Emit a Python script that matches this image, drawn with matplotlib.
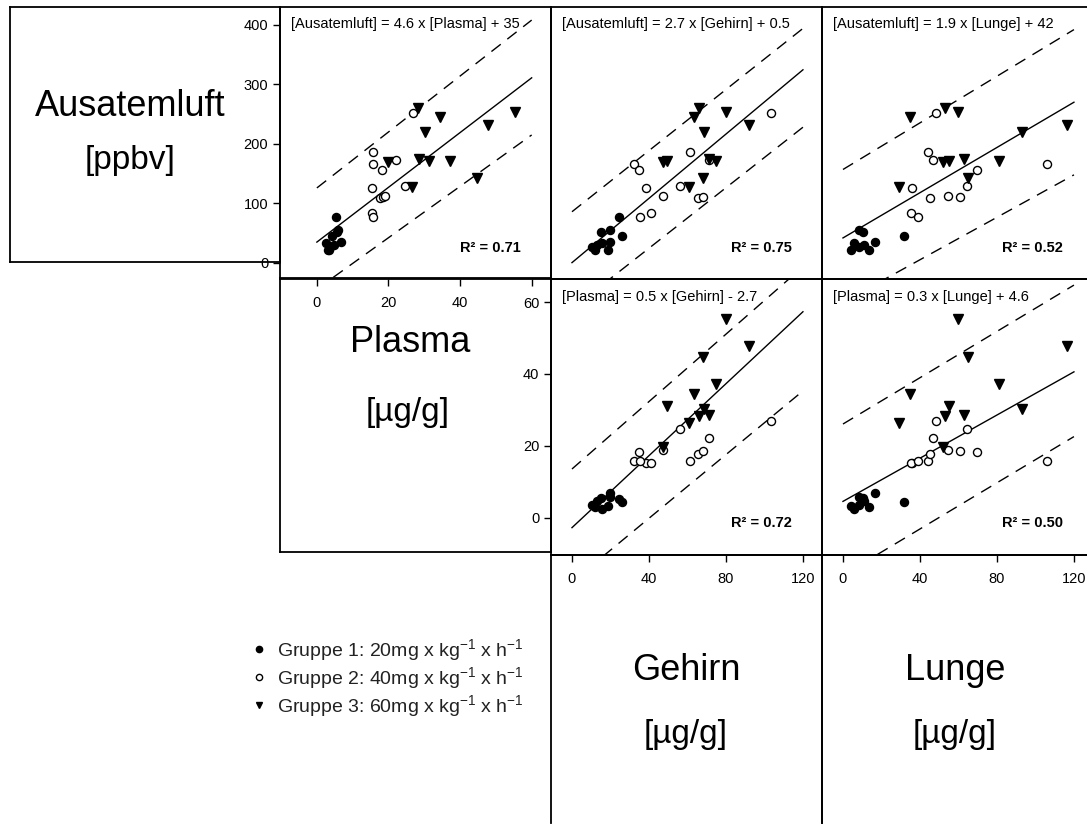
import numpy as np
import matplotlib
matplotlib.use('Agg')
import matplotlib.pyplot as plt
from matplotlib.lines import Line2D

plt.rcParams['font.family'] = 'Liberation Sans'
plt.rcParams['mathtext.fontset'] = 'custom'
plt.rcParams['mathtext.rm'] = 'Liberation Sans'
plt.rcParams['mathtext.it'] = 'Liberation Sans:italic'
plt.rcParams['mathtext.bf'] = 'Liberation Sans:bold'

nan = np.nan

# Gruppe 1: 20 mg/kg/h
g1_plasma = [5.3, 5.5, 5.8, 4.3, 2.6, 6.8, 3.6, 3.0, 3.4, 4.8]
g1_atem = [78, 52, 55, 46, 34, 36, 27, 22, 21, 30]
g1_gehirn = [24.4, 15.0, 19.6, 26.0, 15.4, 19.7, 10.2, 11.9, 18.9, 12.8]
g1_lunge = [nan, 10.4, 8.5, 31.5, 5.9, 16.8, 8.5, 13.7, 4.2, 11.0]

# Gruppe 2: 40 mg/kg/h
g2_plasma = [15.8, 15.7, 18.3, 22.2, 15.3, 24.6, 17.7, 18.6, 19.0, 15.4, 15.7, 26.8]
g2_atem = [186, 166, 156, 173, 126, 130, 109, 111, 112, 84, 77, 252]
g2_gehirn = [61.3, 32.2, 35.0, 71.3, 38.4, 56.1, 65.3, 68.2, 47.4, 41.2, 35.3, 103.4]
g2_lunge = [44.3, 106.0, 69.6, 46.6, 35.7, 64.2, 45.2, 60.9, 54.4, 35.3, 38.8, 48.3]

# Gruppe 3: 60 mg/kg/h
g3_plasma = [28.3, 34.4, 30.3, 19.8, 28.5, 31.2, 37.2, 26.5, 47.7, 55.3, 44.6]
g3_atem = [260, 245, 220, 169, 174, 172, 171, 127, 232, 254, 143]
g3_gehirn = [66.0, 63.6, 68.6, 47.4, 71.2, 49.5, 74.6, 61.0, 91.8, 79.8, 68.2]
g3_lunge = [53.0, 34.7, 93.0, 51.9, 62.7, 55.2, 81.2, 29.3, 116.4, 59.6, 65.1]

group_labels = [r'Gruppe 1: 20mg x kg$^{-1}$ x h$^{-1}$',
                r'Gruppe 2: 40mg x kg$^{-1}$ x h$^{-1}$',
                r'Gruppe 3: 60mg x kg$^{-1}$ x h$^{-1}$']

# Regressionen (x, y) mit 95%-Band
pairs = [('Plasma', 'Ausatemluft'), ('Gehirn', 'Ausatemluft'), ('Lunge', 'Ausatemluft'),
         ('Gehirn', 'Plasma'), ('Lunge', 'Plasma')]
slopes = [4.6, 2.7, 1.9, 0.5, 0.3]
intercepts = [35, 0.5, 42, -2.7, 4.6]
r_squared = [0.71, 0.75, 0.52, 0.72, 0.50]
fit_range = [(0, 60), (0, 120), (0, 120), (0, 120), (0, 120)]
band_upper = [(126, 408), (86, 394), (157, 392), (13.6, 69.8), (26.1, 64.7)]
band_lower = [(-44, 215), (-77, 228), (-66, 148), (-17.8, 35.3), (-15.9, 22.6)]

data = {
    'Ausatemluft': [g1_atem, g2_atem, g3_atem],
    'Plasma': [g1_plasma, g2_plasma, g3_plasma],
    'Gehirn': [g1_gehirn, g2_gehirn, g3_gehirn],
    'Lunge': [g1_lunge, g2_lunge, g3_lunge],
}

W, H = 1087, 825
fig = plt.figure(figsize=(W / 100, H / 100), dpi=100)


def rect(x0, y0, x1, y1):
    return [x0 / W, 1 - y1 / H, (x1 - x0) / W, (y1 - y0) / H]


# Beschriftungskaesten
for r, bottom in [((10, 7, 280, 262), True), ((280, 278, 551, 552), True),
                  ((551, 555, 822, 823), False), ((822, 555, 1093, 823), False)]:
    b = fig.add_axes(rect(*r), zorder=0)
    b.set_facecolor('none')
    b.set_xticks([])
    b.set_yticks([])
    for s in b.spines.values():
        s.set_linewidth(1.3)
    b.spines['bottom'].set_visible(bottom)

for x, y, t, fs in [(130, 107, 'Ausatemluft', 26), (130, 160, '[ppbv]', 24),
                    (410, 343, 'Plasma', 26), (408, 412, '[µg/g]', 24),
                    (686, 670, 'Gehirn', 26), (686, 735, '[µg/g]', 24),
                    (955, 670, 'Lunge', 26), (955, 735, '[µg/g]', 24)]:
    fig.text(x / W, 1 - y / H, t, fontsize=fs, ha='center', va='center')

panel_rects = [(280, 7, 551, 279), (551, 7, 822, 279), (822, 7, 1093, 279),
               (551, 279, 822, 555), (822, 279, 1093, 555)]
lims = {'Ausatemluft': (-27, 430), 'Plasma': (-10.3, 66.4),
        'Gehirn': (-10.9, 129.9), 'Lunge': (-10.9, 129.9)}
lims_plasma_x = (-10.3, 65.4)

markers = [dict(marker='o', ms=5.8, mfc='black', mec='black'),
           dict(marker='o', ms=5.8, mfc='white', mec='black', mew=1.0),
           dict(marker='v', ms=7.2, mfc='black', mec='black')]

axes = []
for i, (xv, yv) in enumerate(pairs):
    ax = fig.add_axes(rect(*panel_rects[i]), zorder=2)
    ax.set_facecolor('none')
    xs = np.array(fit_range[i], dtype=float)
    ax.plot(xs, slopes[i] * xs + intercepts[i], color='black', lw=1.0, zorder=2)
    ax.plot(xs, band_upper[i], color='black', lw=1.0, dashes=(8.5, 6), zorder=2)
    ax.plot(xs, band_lower[i], color='black', lw=1.0, dashes=(8.5, 6), zorder=2)
    for g in range(3):
        ax.plot(data[xv][g], data[yv][g], ls='none', zorder=3, **markers[g])
    ax.set_xlim(lims_plasma_x if xv == 'Plasma' else lims[xv])
    ax.set_ylim(lims[yv])
    for s in ax.spines.values():
        s.set_linewidth(1.3)
    ax.set_xticks([])
    ax.set_yticks([])
    ax.tick_params(direction='out', length=5, width=1.0, labelsize=10.5,
                   colors='black')
    ax.tick_params(axis='x', pad=7)
    ax.tick_params(axis='y', pad=3.5)
    sign = '+' if intercepts[i] >= 0 else '-'
    eq = f'[{yv}] = {slopes[i]:g} x [{xv}] {sign} {abs(intercepts[i]):g}'
    ax.text(0.04, 0.936, eq, transform=ax.transAxes, fontsize=10.5,
            ha='left', va='center')
    ax.text(0.89, 0.115, f'R² = {r_squared[i]:.2f}', transform=ax.transAxes,
            fontsize=10.5, fontweight='bold', ha='right', va='center')
    axes.append(ax)

axes[0].set_yticks([0, 100, 200, 300, 400])
axes[0].set_xticks([0, 20, 40, 60])
axes[0].set_xticklabels(['0', '20', '40', ''])
axes[3].set_yticks([0, 20, 40, 60])
axes[3].set_xticks([0, 40, 80, 120])
axes[4].set_xticks([0, 40, 80, 120])

handles = [Line2D([], [], ls='none', marker=m['marker'], ms=4.5, mfc=m['mfc'],
                  mec=m['mec'], mew=1.0) for m in markers]
fig.legend(handles, group_labels, loc='upper left',
           bbox_to_anchor=(251 / W, 1 - 637 / H), frameon=False, fontsize=14,
           handlelength=0.8, handletextpad=0.55, labelspacing=0.1,
           borderaxespad=0, borderpad=0, labelcolor='#222222')

fig.savefig('out.png', dpi=100)
